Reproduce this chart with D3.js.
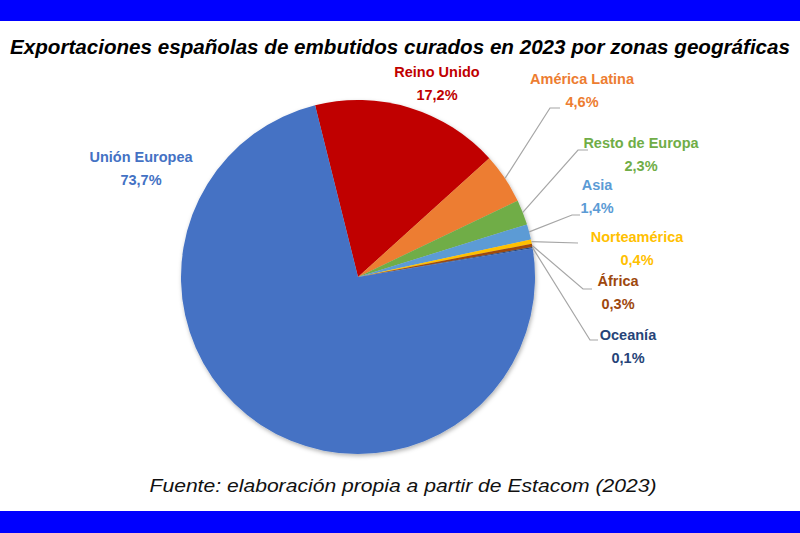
<!DOCTYPE html>
<html><head><meta charset="utf-8">
<script src="https://cdn.jsdelivr.net/npm/d3@7"></script>
<style>body{margin:0;background:#fff}</style></head>
<body><svg id="c" width="800" height="533"></svg>
<script>
const categories=["Reino Unido","América Latina","Resto de Europa","Asia","Norteamérica","África","Oceanía","Unión Europea"];
const values=[17.2,4.6,2.3,1.4,0.4,0.3,0.1,73.7];
const labels=["17,2%","4,6%","2,3%","1,4%","0,4%","0,3%","0,1%","73,7%"];
const colors=["#C00000","#ED7D31","#70AD47","#5B9BD5","#FFC000","#9E480E","#264478","#4472C4"];
const labelPos=[[437,72],[582,79],[641,143],[597,185],[637,237],[618,281],[628,335],[141,157]];
const elbow=[[550,108,560],[578,150,588],[572,215,580],[578,243,578],[583,289,592],[590,340,598]];

const svg=d3.select("#c");
svg.append("rect").attr("width",800).attr("height",21).attr("fill","#0000FF");
svg.append("rect").attr("y",511).attr("width",800).attr("height",22).attr("fill","#0000FF");
svg.append("text").attr("x",400).attr("y",54).attr("text-anchor","middle")
 .attr("font-family","Liberation Sans Narrow, Liberation Sans, Arial").attr("font-style","italic").attr("font-weight","bold")
 .attr("font-size",20.5).attr("textLength",780).attr("lengthAdjust","spacingAndGlyphs")
 .text("Exportaciones españolas de embutidos curados en 2023 por zonas geográficas");
svg.append("text").attr("x",403).attr("y",492).attr("text-anchor","middle")
 .attr("font-family","Liberation Sans Narrow, Liberation Sans, Arial").attr("font-style","italic").attr("font-size",19).attr("fill","#111")
 .attr("textLength",507).attr("lengthAdjust","spacingAndGlyphs")
 .text("Fuente: elaboración propia a partir de Estacom (2023)");

const cx=358,cy=277,r=177;
const defs=svg.append("defs");
const f=defs.append("filter").attr("id","sh").attr("x","-20%").attr("y","-20%").attr("width","140%").attr("height","140%");
f.append("feDropShadow").attr("dx",1).attr("dy",2).attr("stdDeviation",2).attr("flood-opacity",0.3);
const start=-0.245;
const pie=d3.pie().sort(null).value(d=>d).startAngle(start).endAngle(start+2*Math.PI);
const arc=d3.arc().innerRadius(0).outerRadius(r);
const arcs=pie(values);
const g=svg.append("g").attr("transform",`translate(${cx},${cy})`).attr("filter","url(#sh)");
g.selectAll("path").data(arcs).enter().append("path").attr("d",arc).attr("fill",(d,i)=>colors[i]);

arcs.forEach((a,i)=>{
  if(i<1||i>6)return;
  const m=(a.startAngle+a.endAngle)/2;
  const px=cx+Math.sin(m)*r, py=cy-Math.cos(m)*r;
  const e=elbow[i-1];
  svg.append("polyline").attr("points",`${px},${py} ${e[0]},${e[1]} ${e[2]},${e[1]}`)
   .attr("fill","none").attr("stroke","#A6A6A6").attr("stroke-width",1.2);
});
categories.forEach((c,i)=>{
  const [x,y]=labelPos[i];
  const t=svg.append("text").attr("text-anchor","middle").attr("font-family","Liberation Sans Narrow, Liberation Sans, Arial")
   .attr("font-weight","bold").attr("font-size",14.5).attr("fill",colors[i]);
  t.append("tspan").attr("x",x).attr("y",y+5).text(c);
  t.append("tspan").attr("x",x).attr("y",y+28).text(labels[i]);
});
</script></body></html>
